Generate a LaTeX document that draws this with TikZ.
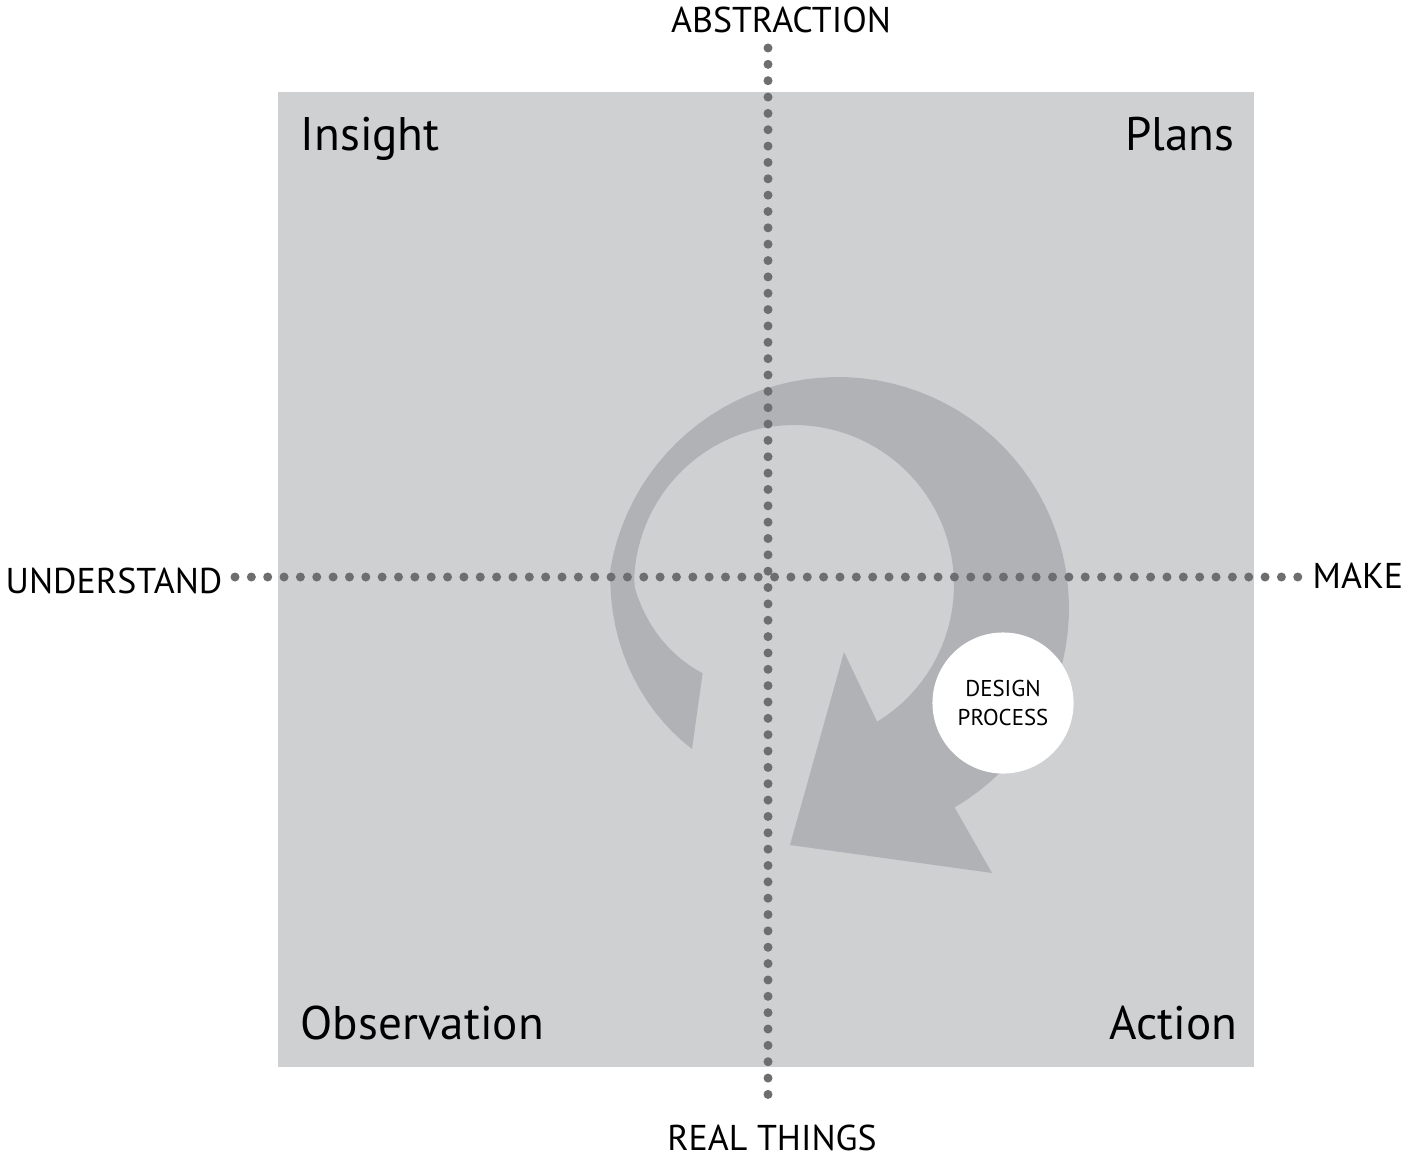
\documentclass[tikz,border=0pt]{standalone}
\usepackage{fontspec}
\setmainfont{PT Sans}
\usepackage{tikz}
\usetikzlibrary{positioning}
\definecolor{boxgray}{HTML}{CFD0D2}
\definecolor{arrowgray}{HTML}{B1B2B5}
\definecolor{dotgray}{HTML}{6D6E70}

\begin{document}
\begin{tikzpicture}[x=0.01cm, y=-0.01cm,
axis/.style = {dotgray, line width=0.09cm, line cap=round, dash pattern=on 0pt off 0.1634cm},
quadrant/.style = {font=\fontsize{13.4}{16}\selectfont, inner sep=0pt},
axislabel/.style = {font=\fontsize{10.2}{12}\selectfont, inner sep=0pt},
designnode/.style = {circle, fill=white, minimum size=1.41cm, inner sep=0pt, align=center, font=\fontsize{6.5}{8.3}\selectfont}]
\useasboundingbox (0,0) rectangle (1401,1155);
\fill[boxgray] (278,92) rectangle (1254,1067);

\fill[arrowgray] plot[domain=-224:59.7, samples=80, variable=\t]
  ({838+min(231,203+(\t+224)*0.5185)*cos(\t)}, {608+min(231,203+(\t+224)*0.5185)*sin(\t)})
  -- (992,873) -- (790,845) -- (844,652)
  -- plot[domain=-58.7:224, samples=80, variable=\t]
  ({794+min(160,127+(224-\t)*0.75)*cos(-\t)}, {585+min(160,127+(224-\t)*0.75)*sin(-\t)})
  -- cycle;

\coordinate (top) at (768,48);
\coordinate (bottom) at (768,1110);
\coordinate (left) at (235,577);
\coordinate (right) at (1298,577);
\draw[axis] (top) -- (bottom);
\draw[axis] (left) -- (right);

\node[axislabel, anchor=base] (abstraction) at (781,33) {ABSTRACTION};
\node[axislabel, anchor=base] (realthings) at (772,1150) {REAL THINGS};
\node[axislabel, anchor=base west] (understand) at (5,593) {UNDERSTAND};
\node[axislabel, anchor=base west] (make) at (1312,588) {MAKE};

\node[quadrant, anchor=base west] (insight) at (300,151) {Insight};
\node[quadrant, anchor=base east] (plans) at (1235,151) {Plans};
\node[quadrant, anchor=base west] (observation) at (300,1039) {Observation};
\node[quadrant, anchor=base east] (action) at (1238,1039) {Action};

\node[designnode] (design) at (1003,703) {DESIGN\\PROCESS};
\end{tikzpicture}
\end{document}
